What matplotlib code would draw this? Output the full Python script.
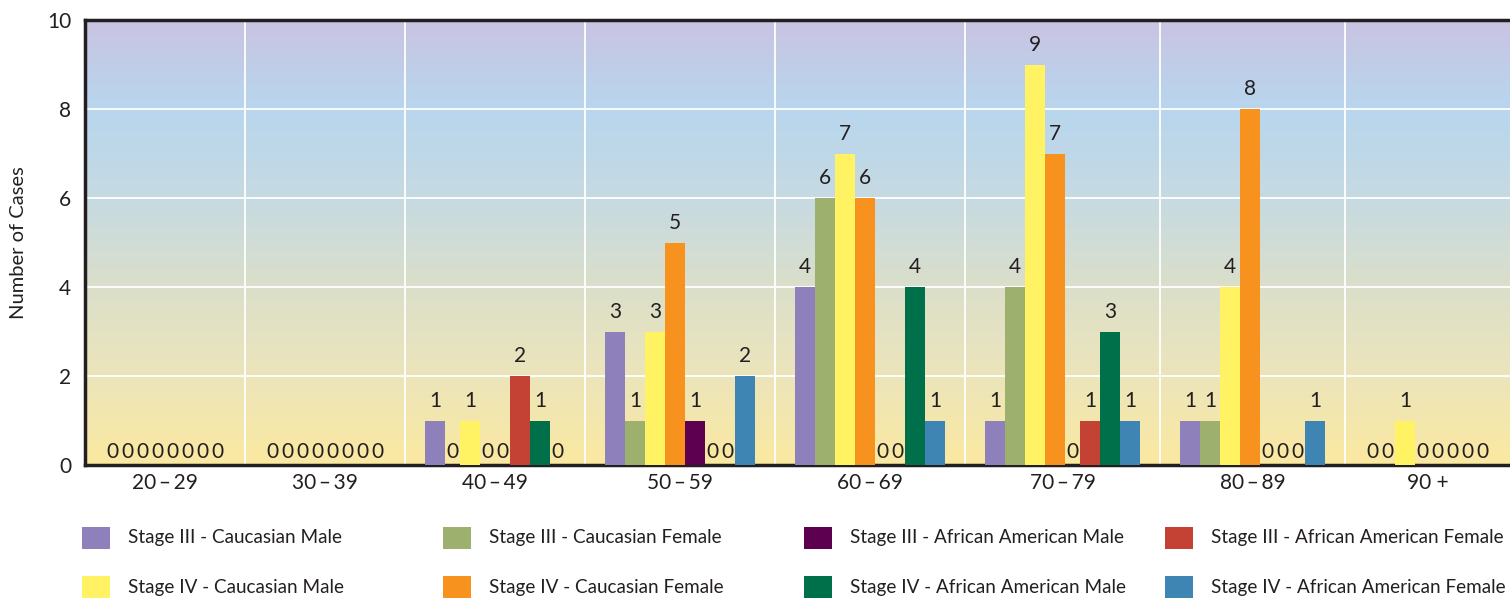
import matplotlib.pyplot as plt
import numpy as np
from matplotlib.colors import LinearSegmentedColormap
from matplotlib.patches import Rectangle

plt.rcParams['font.family'] = ['Lato', 'DejaVu Sans']

age_groups = ['20\u2009–\u200929', '30\u2009–\u200939', '40\u2009–\u200949', '50\u2009–\u200959',
              '60\u2009–\u200969', '70\u2009–\u200979', '80\u2009–\u200989', '90 +']

# series in the order the bars appear inside each group
series_names = [
    'Stage III - Caucasian Male',
    'Stage III - Caucasian Female',
    'Stage IV - Caucasian Male',
    'Stage IV - Caucasian Female',
    'Stage III - African American Male',
    'Stage III - African American Female',
    'Stage IV - African American Male',
    'Stage IV - African American Female',
]
iii_cauc_male = [0, 0, 1, 3, 4, 1, 1, 0]
iii_cauc_female = [0, 0, 0, 1, 6, 4, 1, 0]
iv_cauc_male = [0, 0, 1, 3, 7, 9, 4, 1]
iv_cauc_female = [0, 0, 0, 5, 6, 7, 8, 0]
iii_aa_male = [0, 0, 0, 1, 0, 0, 0, 0]
iii_aa_female = [0, 0, 2, 0, 0, 1, 0, 0]
iv_aa_male = [0, 0, 1, 0, 4, 3, 0, 0]
iv_aa_female = [0, 0, 0, 2, 1, 1, 1, 0]
series_values = [iii_cauc_male, iii_cauc_female, iv_cauc_male, iv_cauc_female,
                 iii_aa_male, iii_aa_female, iv_aa_male, iv_aa_female]
colors = ['#8e80ba', '#9eb06e', '#fff263', '#f7921e',
          '#5c004f', '#c44233', '#00704a', '#3f85b4']

# legend layout: row 1 = Stage III, row 2 = Stage IV
legend_order = [0, 1, 4, 5, 2, 3, 6, 7]

BAR_W = 1.0
ZERO_W = 0.75
PAD = 1.0
INK = '#231f20'

fig = plt.figure(figsize=(15.1, 5.98), dpi=100)
ax = fig.add_axes([85 / 1510, 133 / 598, 1 - 85 / 1510, 445 / 598])

x = 0.0
boundaries = [0.0]
centers = []
for g in range(len(age_groups)):
    start = x
    x += PAD
    for s, vals in enumerate(series_values):
        v = vals[g]
        w = BAR_W if v else ZERO_W
        c = x + w / 2
        if v:
            ax.bar(c, v, width=w, color=colors[s], zorder=3, linewidth=0)
            ax.annotate(str(v), (c, v), xytext=(0, 7), textcoords='offset points',
                        ha='center', va='bottom', fontsize=15, color=INK, zorder=4)
        else:
            ax.annotate('0', (c, 0), xytext=(0, 2), textcoords='offset points',
                        ha='center', va='bottom', fontsize=15, color=INK, zorder=4)
        x += w
    x += PAD
    boundaries.append(x)
    centers.append((start + x) / 2)

xmax = x
# background gradient
cmap = LinearSegmentedColormap.from_list('bg', [
    (0.0, '#fbe9a0'), (0.2, '#ece5bb'), (0.4, '#dbdfca'),
    (0.6, '#c6dae2'), (0.8, '#b8d6ee'), (1.0, '#c9c4e2')])
grad = np.linspace(0, 1, 256).reshape(-1, 1)
ax.imshow(grad, extent=[0, xmax, 0, 10], origin='lower', aspect='auto',
          cmap=cmap, zorder=0)

for yv in [2, 4, 6, 8]:
    ax.axhline(yv, color='white', lw=1.3, zorder=1)
for b in boundaries[1:-1]:
    ax.axvline(b, color='white', lw=1.3, zorder=1)

ax.set_xlim(0, xmax)
ax.set_ylim(0, 10)
ax.set_xticks(centers)
ax.set_xticklabels(age_groups, fontsize=15, color=INK)
ax.set_yticks([0, 2, 4, 6, 8, 10])
ax.set_yticklabels(['0', '2', '4', '6', '8', '10'], fontsize=15, color=INK)
ax.tick_params(length=0, pad=6)
ax.tick_params(axis='y', pad=10)
ax.set_ylabel('Number of Cases', fontsize=14.5, color=INK, labelpad=14)

for side in ['left', 'bottom', 'top']:
    ax.spines[side].set_color(INK)
    ax.spines[side].set_linewidth(2.5)
ax.spines['right'].set_visible(False)

# legend, laid out as a 2 x 4 grid below the axes
col_x = [82, 443, 804, 1165]
row_y = [538, 587]
for k, s in enumerate(legend_order):
    r, c = divmod(k, 4)
    px, py = col_x[c], row_y[r]
    fig.add_artist(Rectangle((px / 1510, (598 - py - 11) / 598), 28 / 1510, 22 / 598,
                             transform=fig.transFigure, color=colors[s], lw=0))
    fig.text((px + 46) / 1510, (598 - py) / 598, series_names[s], fontsize=13.6,
             va='center', ha='left', color=INK)

fig.savefig('out.png', dpi=100)
